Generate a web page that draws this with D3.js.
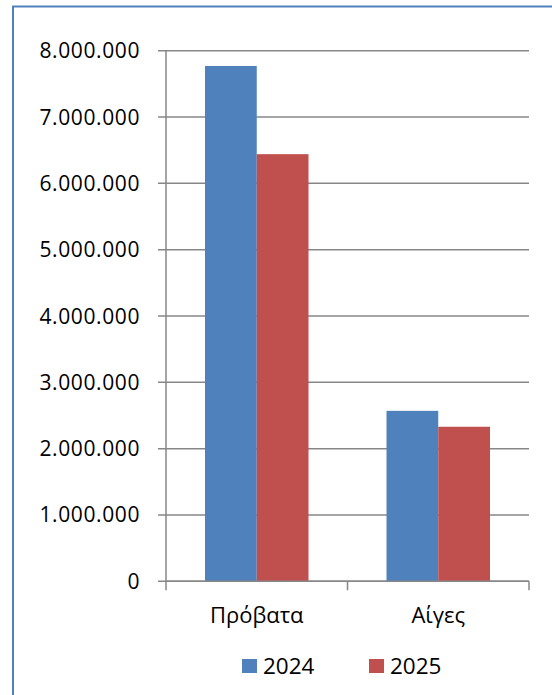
<!DOCTYPE html>
<html><head><meta charset="utf-8">
<script src="https://cdn.jsdelivr.net/npm/d3@7"></script>
<style>html,body{margin:0;padding:0;background:#fff;}svg{display:block;}</style>
</head><body>
<svg id="c" width="552" height="695"></svg>
<script>
const categories = ["Πρόβατα", "Αίγες"];
const seriesNames = ["2024", "2025"];
const values2024 = [7770000, 2570000];
const values2025 = [6440000, 2330000];
const yTicks = [0, 1000000, 2000000, 3000000, 4000000, 5000000, 6000000, 7000000, 8000000];
const colors = ["#4F81BD", "#C0504D"];

(function () {
const svg = d3.select("#c");
const font = "'Open Sans', 'Noto Sans', sans-serif";

// border (top and left visible)
svg.append("rect").attr("x", 13).attr("y", 6.5).attr("width", 600).attr("height", 700)
  .attr("fill", "none").attr("stroke", "#4F81BD").attr("stroke-width", 2);

const pLeft = 166, pRight = 529, pTop = 50.7, pBottom = 581.3;
const y = d3.scaleLinear().domain([0, 8000000]).range([pBottom, pTop]);
const x0 = d3.scaleBand().domain(categories).range([pLeft, pRight]).paddingInner(0).paddingOuter(0);
const x1 = d3.scaleBand().domain(seriesNames).range([39, x0.bandwidth() - 39]);

const fmt = v => d3.format(",")(v).replace(/,/g, ".");

// gridlines
svg.append("g").selectAll("line").data(yTicks).join("line")
  .attr("x1", pLeft - 8).attr("x2", pRight)
  .attr("y1", d => y(d)).attr("y2", d => y(d))
  .attr("stroke", "#878787").attr("stroke-width", 1.5);

// bars
const data = categories.map((c, i) => ({cat: c, vals: [values2024[i], values2025[i]]}));
const g = svg.append("g").selectAll("g").data(data).join("g")
  .attr("transform", d => `translate(${x0(d.cat)},0)`);
g.selectAll("rect").data(d => d.vals.map((v, j) => ({s: seriesNames[j], v, j}))).join("rect")
  .attr("x", d => x1(d.s)).attr("width", x1.bandwidth())
  .attr("y", d => y(d.v)).attr("height", d => pBottom - y(d.v))
  .attr("fill", d => colors[d.j]);

// y axis line
svg.append("line").attr("x1", pLeft).attr("x2", pLeft).attr("y1", pTop).attr("y2", pBottom + 9)
  .attr("stroke", "#878787").attr("stroke-width", 1.5);
// x axis line
svg.append("line").attr("x1", pLeft).attr("x2", pRight).attr("y1", pBottom).attr("y2", pBottom)
  .attr("stroke", "#878787").attr("stroke-width", 1.5);
// category ticks
const catTicks = categories.map(c => x0(c) + x0.bandwidth());
svg.append("g").selectAll("line").data(catTicks).join("line")
  .attr("x1", d => d).attr("x2", d => d).attr("y1", pBottom).attr("y2", pBottom + 9)
  .attr("stroke", "#878787").attr("stroke-width", 1.5);

// y labels
svg.append("g").selectAll("text").data(yTicks).join("text")
  .attr("x", 140).attr("y", d => y(d) + 7.5)
  .attr("text-anchor", "end").attr("font-family", font).attr("font-size", 21)
  .attr("letter-spacing", 0.6)
  .attr("fill", "#000").text(fmt);

// category labels
svg.append("g").selectAll("text").data(categories).join("text")
  .attr("x", d => x0(d) + x0.bandwidth() / 2).attr("y", 623)
  .attr("text-anchor", "middle").attr("font-family", font).attr("font-size", 22)
  .attr("fill", "#000").text(d => d);

// legend
const legX = [242, 369];
const leg = svg.append("g").selectAll("g").data(seriesNames).join("g")
  .attr("transform", (d, i) => `translate(${legX[i]},659)`);
leg.append("rect").attr("width", 15).attr("height", 14).attr("fill", (d, i) => colors[i]);
leg.append("text").attr("x", 21).attr("y", 14.5).attr("font-family", font).attr("font-size", 22.5)
  .attr("fill", "#000").text(d => d);
})();
</script>
</body></html>
